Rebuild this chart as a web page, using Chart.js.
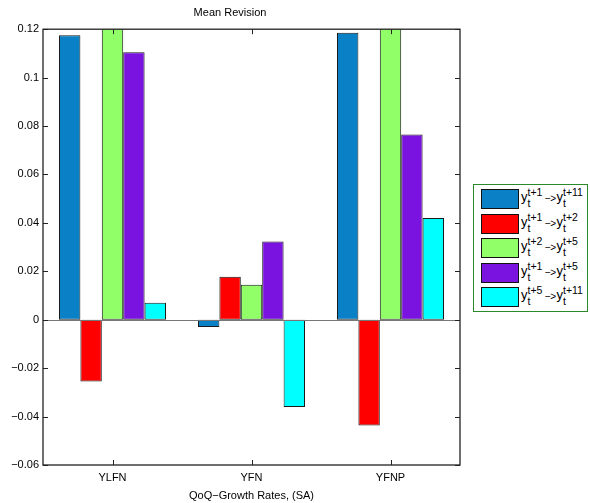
<!DOCTYPE html>
<html>
<head>
<meta charset="utf-8">
<script src="https://cdn.jsdelivr.net/npm/chart.js@4/dist/chart.umd.min.js"></script>
<style>
  body { margin:0; background:#fff; font-family:"Liberation Sans", Arial, sans-serif; }
  #wrap { position:relative; width:590px; height:503px; }
  #legendBox { position:absolute; left:473px; top:184px; width:113px; height:126px;
               border:1.5px solid #2a8a2a; background:#fff; }
  .sw { position:absolute; width:36px; height:18px; border:1px solid #111; }
  .t { position:absolute; white-space:nowrap; color:#000; }
  .big { font-size:13px; line-height:13px; }
  .sm { font-size:10.5px; line-height:10.5px; }
  .ar { font-size:10px; line-height:10px; letter-spacing:-0.5px; }
</style>
</head>
<body>
<div id="wrap">
  <canvas id="c" width="590" height="503"></canvas>
  <div id="legendBox"></div>
</div>
<script>
// data
var categories = ['YLFN', 'YFN', 'YFNP'];
var seriesFrom = ['t+1', 't+1', 't+2', 't+1', 't+5'];
var seriesTo = ['t+11', 't+2', 't+5', 't+5', 't+11'];
var seriesColors = ['#0a80c6', '#ff0000', '#90ff68', '#7a12e0', '#00ffff'];
var s1 = [0.1175, -0.003, 0.1185];   // y(t+1) -> y(t+11)
var s2 = [-0.0255, 0.0178, -0.0437]; // y(t+1) -> y(t+2)
var s3 = [0.135, 0.0145, 0.135];     // y(t+2) -> y(t+5), clipped at top
var s4 = [0.1105, 0.0323, 0.0765];   // y(t+1) -> y(t+5)
var s5 = [0.007, -0.036, 0.042];     // y(t+5) -> y(t+11)
var allSeries = [s1, s2, s3, s4, s5];
var yTicks = [-0.06, -0.04, -0.02, 0, 0.02, 0.04, 0.06, 0.08, 0.1, 0.12];

function fmt(v) {
  var s = parseFloat(v.toFixed(2)).toString();
  return s.replace('-', '\u2212');
}

var datasets = allSeries.map(function(vals, i) {
  return {
    label: 'y' + seriesFrom[i] + ' -> y' + seriesTo[i],
    data: vals,
    backgroundColor: seriesColors[i],
    borderColor: '#1a1a1a',
    borderWidth: 1,
    borderSkipped: false,
    barPercentage: 1,
    categoryPercentage: 0.77
  };
});

// legend in html so the sub/superscripts work
var wrap = document.getElementById('wrap');
function addText(txt, cls, x, y) {
  var d = document.createElement('div');
  d.className = 't ' + cls;
  d.style.left = x + 'px';
  d.style.top = y + 'px';
  d.textContent = txt;
  wrap.appendChild(d);
}
allSeries.forEach(function(v, i) {
  var top = Math.round(189 + i * 24.6);
  var sw = document.createElement('div');
  sw.className = 'sw';
  sw.style.left = '481px';
  sw.style.top = top + 'px';
  sw.style.background = seriesColors[i];
  wrap.appendChild(sw);
  addText('y', 'big', 521, top + 0.6);
  addText(seriesFrom[i], 'sm', 527.5, top - 1.8);
  addText('t', 'sm', 527.5, top + 8.6);
  addText('\u2212>', 'ar', 545, top + 4.8);
  addText('y', 'big', 556.5, top + 0.6);
  addText(seriesTo[i], 'sm', 563, top - 1.8);
  addText('t', 'sm', 563, top + 8.6);
});

var boxPlugin = {
  id: 'box',
  afterDatasetsDraw: function(chart) {
    var ctx = chart.ctx, a = chart.chartArea;
    var ys = chart.scales.y, xs = chart.scales.x;
    ctx.save();
    // zero baseline
    ctx.strokeStyle = '#777';
    ctx.lineWidth = 1;
    var z = Math.round(ys.getPixelForValue(0)) + 0.5;
    ctx.beginPath(); ctx.moveTo(a.left, z); ctx.lineTo(a.right, z); ctx.stroke();
    // box
    ctx.strokeStyle = '#222';
    ctx.lineWidth = 1.3;
    ctx.strokeRect(a.left, a.top, a.right - a.left, a.bottom - a.top);
    // inward ticks
    ctx.lineWidth = 1;
    yTicks.forEach(function(t) {
      var p = Math.round(ys.getPixelForValue(t)) + 0.5;
      ctx.beginPath();
      ctx.moveTo(a.left, p); ctx.lineTo(a.left + 5, p);
      ctx.moveTo(a.right, p); ctx.lineTo(a.right - 5, p);
      ctx.stroke();
    });
    categories.forEach(function(c, i) {
      var p = Math.round(xs.getPixelForValue(i)) + 0.5;
      ctx.beginPath();
      ctx.moveTo(p, a.bottom); ctx.lineTo(p, a.bottom - 5);
      ctx.moveTo(p, a.top); ctx.lineTo(p, a.top + 5);
      ctx.stroke();
    });
    ctx.restore();
  }
};

new Chart(document.getElementById('c'), {
  type: 'bar',
  data: { labels: categories, datasets: datasets },
  plugins: [boxPlugin],
  options: {
    responsive: false,
    animation: false,
    layout: { padding: { left: 0, right: 130, top: 0, bottom: 0 } },
    plugins: {
      legend: { display: false },
      tooltip: { enabled: false },
      title: {
        display: true, text: 'Mean Revision', color: '#000',
        font: { family: 'Liberation Sans', size: 11, weight: 'normal' },
        padding: { top: 6, bottom: 10 }
      }
    },
    scales: {
      x: {
        grid: { display: false, drawTicks: false },
        border: { display: false },
        ticks: { color: '#000', font: { family: 'Liberation Sans', size: 11 }, padding: 6 },
        title: { display: true, text: 'QoQ\u2212Growth Rates, (SA)', color: '#000',
                 font: { family: 'Liberation Sans', size: 11 }, padding: { top: 0, bottom: 0 } },
        afterFit: function(s) { s.height = 38; }
      },
      y: {
        min: -0.06, max: 0.12,
        grid: { display: false, drawTicks: false },
        border: { display: false },
        afterBuildTicks: function(s) { s.ticks = yTicks.map(function(v) { return { value: v }; }); },
        ticks: { color: '#000', font: { family: 'Liberation Sans', size: 11 }, padding: 4,
                 callback: function(v) { return fmt(v); } },
        afterFit: function(s) { s.width = 43; }
      }
    }
  }
});
</script>
</body>
</html>
